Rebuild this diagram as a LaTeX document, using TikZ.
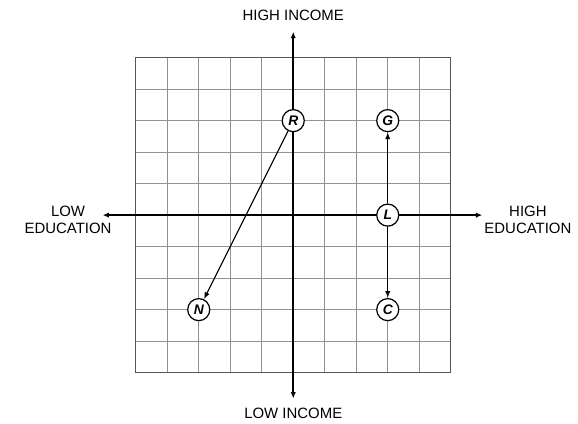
\documentclass[tikz,border=0pt]{standalone}
\usepackage{fontspec}
\setsansfont{Liberation Sans}
\usetikzlibrary{arrows.meta,positioning}
\definecolor{clrGridline}{RGB}{145,145,145}
\definecolor{clrFrame}{RGB}{85,85,85}
\tikzset{
  gridline/.style={draw=clrGridline, line width=0.8pt},
  framebox/.style={draw=clrFrame, line width=1.1pt},
  axisline/.style={{Latex[length=2mm,width=1.7mm]}-{Latex[length=2mm,width=1.7mm]}, line width=1.4pt},
  moveline/.style={-{Latex[length=2.2mm,width=1.7mm]}, line width=1.1pt},
  partynode/.style={circle, draw, fill=white, line width=1.1pt, minimum size=7mm, inner sep=0pt, font=\sffamily\bfseries\itshape\fontsize{12.5}{13}\selectfont},
  axislabel/.style={align=center, font=\sffamily\fontsize{13.5}{15}\selectfont}
}
\begin{document}
\begin{tikzpicture}
\useasboundingbox (-9.31,-6.60) rectangle (9.04,6.83);

% the grid
\draw[gridline] (-5,-5) grid (5,5);
\draw[framebox] (-5,-5) rectangle (5,5);

% axis labels
\node[axislabel] (hiinc) at (0,6.35) {HIGH INCOME};
\node[axislabel] (loinc) at (0,-6.3) {LOW INCOME};
\node[axislabel] (loedu) at (-7.15,-0.15) {LOW\\EDUCATION};
\node[axislabel] (hiedu) at (7.45,-0.15) {HIGH\\EDUCATION};

% axes
\coordinate (north) at (0,5.82);
\coordinate (south) at (0,-5.82);
\coordinate (west) at (-6.05,0);
\coordinate (east) at (6,0);
\draw[axisline] (south) -- (north);
\draw[axisline] (west) -- (east);

% positions
\node[partynode] (R) at (0,3) {R};
\node[partynode] (G) at (3,3) {G};
\node[partynode] (L) at (3,0) {L};
\node[partynode] (C) at (3,-3) {C};
\node[partynode] (N) at (-3,-3) {N};

\draw[moveline] (R) -- (N);
\draw[moveline] (L) -- (G);
\draw[moveline] (L) -- (C);

\end{tikzpicture}
\end{document}
